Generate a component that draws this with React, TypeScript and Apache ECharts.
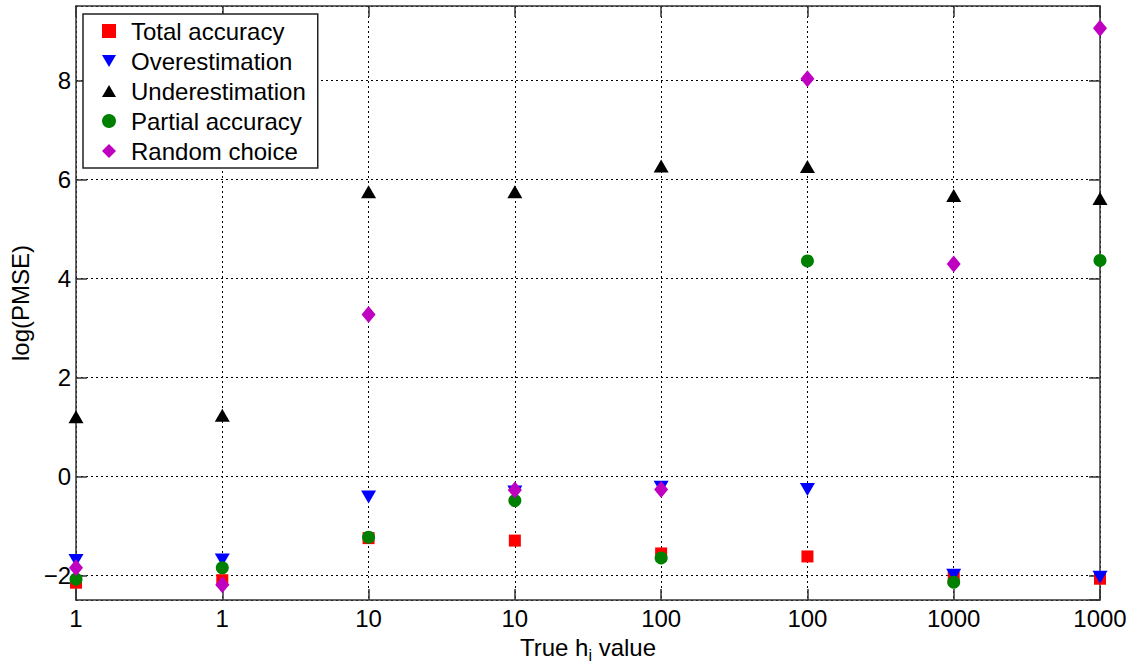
import React, { useEffect, useRef } from "react";
import * as echarts from "echarts";

const categories = ["1", "1", "10", "10", "100", "100", "1000", "1000"];
const totalAccuracy = [-2.15, -2.1, -1.25, -1.3, -1.56, -1.62, -2.05, -2.07];
const overestimation = [-1.7, -1.69, -0.42, -0.32, -0.22, -0.27, -2.0, -2.04];
const underestimation = [1.2, 1.23, 5.75, 5.75, 6.27, 6.26, 5.67, 5.61];
const partialAccuracy = [-2.08, -1.85, -1.23, -0.49, -1.65, 4.35, -2.14, 4.36];
const randomChoice = [-1.85, -2.19, 3.27, -0.28, -0.27, 8.03, 4.29, 9.05];

const FONT = "'Liberation Sans', Arial, sans-serif";
const DOWN_TRI = "path://M0,0 L15,0 L7.5,13 Z";
const UP_TRI = "path://M7.5,0 L15,13 L0,13 Z";

const toPoints = (vals: number[]) => vals.map((v, i) => [i, v]);

export default function App() {
  const ref = useRef<HTMLDivElement>(null);
  useEffect(() => {
    if (!ref.current) return;
    const chart = echarts.init(ref.current, undefined, { renderer: "svg" });
    const axisLine = { show: true, onZero: false, lineStyle: { color: "#333", width: 1.5 } };
    const tick = { show: true, inside: true, length: 11, lineStyle: { color: "#333", width: 1.5 } };
    const grid = { show: true, lineStyle: { color: "#000", type: [2, 3], width: 1 } };
    const yFmt = (v: number) => (Math.abs(v % 2) < 1e-9 ? String(v).replace("-", "\u2212") : "");
    const series = [
      { name: "Total accuracy", data: totalAccuracy, symbol: "rect", symbolSize: 12, color: "#ff0000" },
      { name: "Overestimation", data: overestimation, symbol: DOWN_TRI, symbolSize: [15, 13], color: "#0000ff" },
      { name: "Underestimation", data: underestimation, symbol: UP_TRI, symbolSize: [15, 13], color: "#000000" },
      { name: "Partial accuracy", data: partialAccuracy, symbol: "circle", symbolSize: 13, color: "#008000" },
      { name: "Random choice", data: randomChoice, symbol: "diamond", symbolSize: [14, 17], color: "#c000c0" },
    ];
    chart.setOption({
      animation: false,
      backgroundColor: "#fff",
      textStyle: { fontFamily: FONT },
      grid: { left: 76, right: 48, top: 6, bottom: 69, containLabel: false },
      legend: {
        orient: "vertical",
        left: 83,
        top: 14,
        backgroundColor: "#fff",
        borderColor: "#222",
        borderWidth: 1.5,
        borderRadius: 0,
        padding: [5, 12, 5, 19],
        itemGap: 6,
        itemWidth: 14,
        itemHeight: 14,
        textStyle: { fontSize: 24, color: "#000", fontFamily: FONT, padding: [0, 0, 0, 10], lineHeight: 24 },
        data: series.map((s) => s.name),
      },
      xAxis: [
        {
          type: "value",
          min: 0,
          max: 7,
          interval: 1,
          name: "True h{sub|i} value",
          nameLocation: "middle",
          nameGap: 31,
          nameTextStyle: {
            fontSize: 24,
            color: "#000",
            fontFamily: FONT,
            rich: { sub: { fontSize: 16, verticalAlign: "bottom", padding: [16, 0, 0, 0], fontFamily: FONT, color: "#000" } },
          },
          axisLine,
          axisTick: tick,
          splitLine: grid,
          axisLabel: {
            fontSize: 24,
            color: "#000",
            fontFamily: FONT,
            margin: 6,
            formatter: (v: number) => categories[Math.round(v)] ?? "",
          },
        },
        {
          type: "value",
          position: "top",
          min: 0,
          max: 7,
          interval: 1,
          axisLine,
          axisTick: tick,
          splitLine: { show: false },
          axisLabel: { show: false },
        },
      ],
      yAxis: [
        {
          type: "value",
          min: -2.5,
          max: 9.5,
          splitNumber: 6,
          name: "log(PMSE)",
          nameLocation: "middle",
          nameGap: 37,
          nameTextStyle: { fontSize: 24, color: "#000", fontFamily: FONT },
          axisLine,
          axisTick: tick,
          splitLine: grid,
          axisLabel: { fontSize: 24, color: "#000", fontFamily: FONT, margin: 5, formatter: yFmt, showMinLabel: false, showMaxLabel: false },
        },
        {
          type: "value",
          position: "right",
          min: -2.5,
          max: 9.5,
          splitNumber: 6,
          axisLine,
          axisTick: tick,
          splitLine: { show: false },
          axisLabel: { show: false },
        },
      ],
      series: series.map((s) => ({
        type: "scatter",
        name: s.name,
        data: toPoints(s.data),
        symbol: s.symbol,
        symbolSize: s.symbolSize,
        symbolKeepAspect: false,
        itemStyle: { color: s.color, opacity: 1 },
        clip: false,
        xAxisIndex: 0,
        yAxisIndex: 0,
      })),
    });
    return () => chart.dispose();
  }, []);
  return <div ref={ref} style={{ position: "absolute", left: 0, top: 0, width: 1148, height: 669 }} />;
}
